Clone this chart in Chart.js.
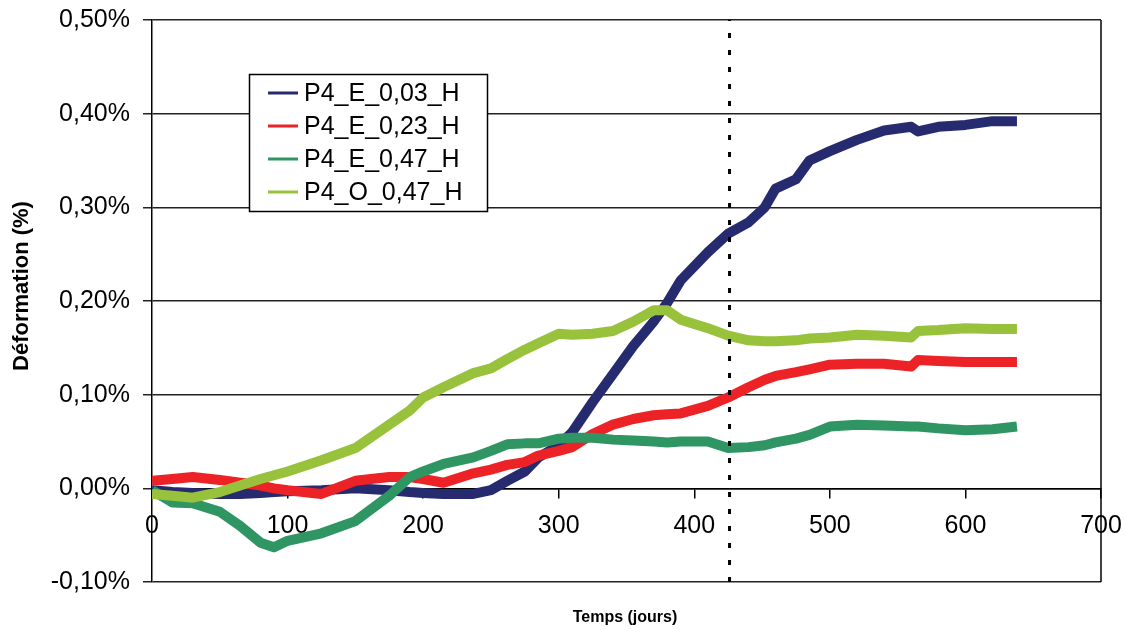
<!DOCTYPE html>
<html>
<head>
<meta charset="utf-8">
<script src="https://cdn.jsdelivr.net/npm/chart.js@4.4.0/dist/chart.umd.min.js"></script>
<style>
  html, body { margin: 0; padding: 0; background: #fff; }
  #wrap { width: 1126px; height: 630px; }
</style>
</head>
<body>
<div id="wrap"><canvas id="deformation-chart" width="1126" height="630"></canvas></div>
<script>
// days (jours) at which the curves were read
const days = [0, 15, 30, 50, 65, 80, 90, 100, 125, 150, 175, 190, 200, 215, 237, 250, 262, 275, 285, 300,
  310, 325, 340, 355, 370, 380, 390, 410, 425, 440, 452, 460, 475, 485, 500, 520, 540, 560, 565, 580,
  600, 620, 638];

// deformation in %
const p4E003 = [-0.002, -0.004, -0.005, -0.006, -0.006, -0.005, -0.004, -0.003, -0.002, 0.000, -0.002, -0.004, -0.005, -0.006, -0.006, -0.002, 0.008, 0.018, 0.033, 0.046,
  0.060, 0.092, 0.122, 0.152, 0.178, 0.198, 0.222, 0.252, 0.272, 0.284, 0.300, 0.320, 0.330, 0.350, 0.360, 0.372, 0.382, 0.386, 0.381, 0.386,
  0.388, 0.392, 0.392];
const p4E023 = [0.008, 0.010, 0.012, 0.009, 0.006, 0.003, 0.000, -0.002, -0.006, 0.008, 0.012, 0.012, 0.010, 0.006, 0.016, 0.020, 0.025, 0.028, 0.035, 0.040,
  0.044, 0.058, 0.068, 0.074, 0.078, 0.079, 0.080, 0.088, 0.097, 0.108, 0.116, 0.120, 0.124, 0.127, 0.132, 0.133, 0.133, 0.130, 0.137, 0.136,
  0.135, 0.135, 0.135];
const p4E047 = [-0.002, -0.015, -0.016, -0.025, -0.040, -0.058, -0.063, -0.056, -0.048, -0.035, -0.008, 0.012, 0.018, 0.026, 0.033, 0.040, 0.047, 0.048, 0.048, 0.053,
  0.054, 0.054, 0.052, 0.051, 0.050, 0.049, 0.050, 0.050, 0.043, 0.044, 0.046, 0.049, 0.053, 0.057, 0.066, 0.068, 0.067, 0.066, 0.066, 0.064,
  0.062, 0.063, 0.066];
const p4O047 = [-0.006, -0.008, -0.010, -0.004, 0.003, 0.010, 0.014, 0.018, 0.030, 0.043, 0.068, 0.083, 0.097, 0.108, 0.123, 0.128, 0.138, 0.148, 0.155, 0.165,
  0.164, 0.165, 0.168, 0.178, 0.190, 0.190, 0.180, 0.171, 0.163, 0.158, 0.157, 0.157, 0.158, 0.160, 0.161, 0.164, 0.163, 0.161, 0.168, 0.169,
  0.171, 0.170, 0.170];

const seriesNames = ['P4_E_0,03_H', 'P4_E_0,23_H', 'P4_E_0,47_H', 'P4_O_0,47_H'];
const seriesColors = ['#262a6f', '#ec2227', '#2f9563', '#98c23c'];
const seriesValues = [p4E003, p4E023, p4E047, p4O047];

const markerDay = 426; // vertical dotted line
const xTicks = [0, 100, 200, 300, 400, 500, 600, 700];
const yTicks = [-0.1, 0, 0.1, 0.2, 0.3, 0.4, 0.5];

const FONT = "'Liberation Sans', Arial, sans-serif";
Chart.defaults.font.family = FONT;
Chart.defaults.color = '#000';

function toPoints(values) {
  return days.map((d, i) => ({ x: d, y: values[i] }));
}

const datasets = seriesValues.map((vals, i) => ({
  label: seriesNames[i],
  data: toPoints(vals),
  borderColor: seriesColors[i],
  backgroundColor: seriesColors[i],
  borderWidth: 10,
  borderJoinStyle: 'round',
  pointRadius: 0,
  tension: 0,
  order: 4 - i // last series drawn on top, like the original
}));

datasets.push({
  label: '',
  data: [{ x: markerDay, y: yTicks[0] }, { x: markerDay, y: yTicks[yTicks.length - 1] }],
  borderColor: '#000',
  borderWidth: 3,
  borderDash: [5, 12],
  pointRadius: 0,
  order: 0
});

// legend box, axis titles, right frame
const extras = {
  id: 'extras',
  afterDraw(chart) {
    const ctx = chart.ctx;
    const area = chart.chartArea;
    ctx.save();

    ctx.strokeStyle = '#000';
    ctx.lineWidth = 1.5;
    ctx.beginPath();
    ctx.moveTo(area.right, area.top);
    ctx.lineTo(area.right, area.bottom);
    ctx.stroke();

    // legend
    const lx = 249.5, ly = 74.5, lw = 238, lh = 137;
    ctx.fillStyle = '#fff';
    ctx.fillRect(lx, ly, lw, lh);
    ctx.strokeStyle = '#000';
    ctx.lineWidth = 1.5;
    ctx.strokeRect(lx, ly, lw, lh);
    ctx.font = '25px ' + FONT;
    ctx.textBaseline = 'middle';
    ctx.textAlign = 'left';
    chart.data.datasets.filter(ds => ds.label).forEach((ds, i) => {
      const y = 93 + i * 33;
      ctx.strokeStyle = ds.borderColor;
      ctx.lineWidth = 3;
      ctx.beginPath();
      ctx.moveTo(268, y);
      ctx.lineTo(298, y);
      ctx.stroke();
      ctx.fillStyle = '#000';
      ctx.fillText(ds.label, 304, y + 1);
    });

    // axis titles
    ctx.fillStyle = '#000';
    ctx.font = 'bold 16px ' + FONT;
    ctx.textAlign = 'center';
    ctx.fillText('Temps (jours)', 625, 618);

    ctx.translate(22, 286);
    ctx.rotate(-Math.PI / 2);
    ctx.font = 'bold 22px ' + FONT;
    ctx.fillText('Déformation (%)', 0, 0);
    ctx.restore();
  }
};

new Chart(document.getElementById('deformation-chart').getContext('2d'), {
  type: 'line',
  data: { datasets },
  options: {
    responsive: false,
    animation: false,
    devicePixelRatio: 1,
    layout: { padding: { left: 0, right: 25, top: 20, bottom: 48 } },
    plugins: {
      legend: { display: false },
      tooltip: { enabled: false }
    },
    scales: {
      x: {
        type: 'linear',
        position: { y: 0 },
        min: 0,
        max: 700,
        afterBuildTicks: (scale) => { scale.ticks = xTicks.map(v => ({ value: v })); },
        afterFit: (scale) => { scale.paddingLeft = 0; scale.paddingRight = 0; },
        ticks: {
          font: { size: 25 },
          color: '#000',
          padding: 14,
          maxRotation: 0,
          callback: (v) => String(v)
        },
        grid: {
          drawOnChartArea: false,
          drawTicks: true,
          tickLength: 9,
          color: '#000',
          lineWidth: 1.5
        },
        border: { display: true, color: '#000', width: 1.5 }
      },
      y: {
        type: 'linear',
        min: -0.1,
        max: 0.5,
        afterBuildTicks: (scale) => { scale.ticks = yTicks.map(v => ({ value: v })); },
        afterFit: (scale) => { scale.width = 152; scale.paddingTop = 0; scale.paddingBottom = 0; },
        ticks: {
          font: { size: 25 },
          color: '#000',
          padding: 13,
          callback: (v) => v.toFixed(2).replace('.', ',') + '%'
        },
        grid: {
          color: '#222',
          lineWidth: 1.5,
          tickLength: 9
        },
        border: { display: true, color: '#000', width: 1.5 }
      }
    }
  },
  plugins: [extras]
});
</script>
</body>
</html>
